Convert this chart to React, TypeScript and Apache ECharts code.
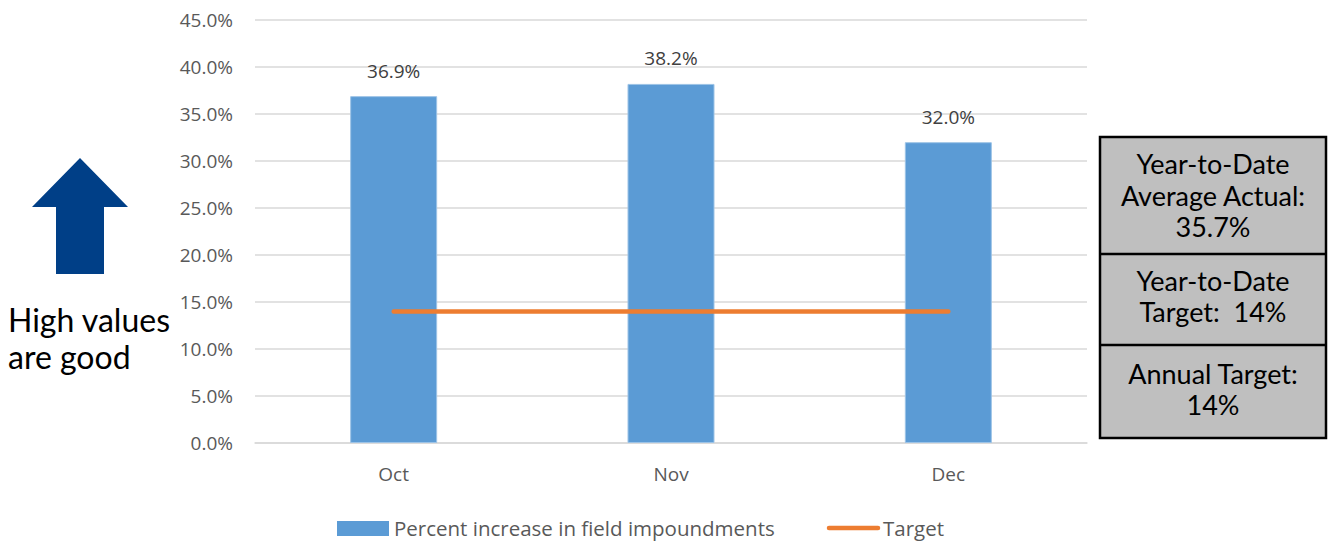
import React, { useEffect, useRef } from "react";
import * as echarts from "echarts";

const categories = ["Oct", "Nov", "Dec"];
const percentIncrease = [36.9, 38.2, 32.0];
const targetValues = [14, 14, 14];
const yTicks = { min: 0, max: 45, interval: 5 };
const seriesNames = ["Percent increase in field impoundments", "Target"];
const boxTexts = [
  "Year-to-Date\nAverage Actual:\n35.7%",
  "Year-to-Date\nTarget:  14%",
  "Annual Target:\n14%",
];
const sideNote = "High values\nare good";

export default function App() {
  const ref = useRef<HTMLDivElement>(null);
  useEffect(() => {
    document.body.style.margin = "0";
    const chart = echarts.init(ref.current!, null, { renderer: "svg" });
    const axisFont = "'Open Sans', 'Noto Sans', sans-serif";
    chart.setOption({
      animation: false,
      backgroundColor: "#ffffff",
      grid: { left: 255, right: 245, top: 20, bottom: 99, containLabel: false },
      xAxis: {
        type: "category",
        data: categories,
        axisLine: { show: true, lineStyle: { color: "#d9d9d9", width: 1.5 } },
        axisTick: { show: false },
        axisLabel: { color: "#595959", fontSize: 19, fontFamily: axisFont, margin: 21 },
      },
      yAxis: {
        type: "value",
        min: yTicks.min,
        max: yTicks.max,
        interval: yTicks.interval,
        axisLine: { show: false },
        axisTick: { show: false },
        splitLine: { lineStyle: { color: "#d9d9d9", width: 1.5 } },
        axisLabel: {
          color: "#595959",
          fontSize: 19,
          fontFamily: axisFont,
          margin: 22,
          formatter: (v: number) => v.toFixed(1) + "%",
        },
      },
      legend: { show: false },
      series: [
        {
          name: seriesNames[0],
          type: "bar",
          data: percentIncrease,
          barWidth: 87,
          itemStyle: { color: "#5b9bd5", borderColor: "#9dc3e6", borderWidth: 1 },
          label: {
            show: true,
            position: "top",
            distance: 16,
            color: "#404040",
            fontSize: 19,
            fontFamily: axisFont,
            formatter: (p: any) => p.value.toFixed(1) + "%",
          },
        },
        {
          name: seriesNames[1],
          type: "line",
          data: targetValues,
          symbol: "none",
          lineStyle: { color: "#ed7d31", width: 4.5, cap: "round" },
          itemStyle: { color: "#ed7d31" },
        },
      ],
      graphic: [
        // legend
        {
          type: "rect",
          shape: { x: 337, y: 521, width: 52, height: 15 },
          style: { fill: "#5b9bd5" },
        },
        {
          type: "text",
          x: 394,
          y: 528,
          style: {
            text: seriesNames[0],
            font: "20.5px 'Open Sans', sans-serif",
            fill: "#595959",
            verticalAlign: "middle",
          },
        },
        {
          type: "line",
          shape: { x1: 829, y1: 528, x2: 878, y2: 528 },
          style: { stroke: "#ed7d31", lineWidth: 4.5, lineCap: "round" },
        },
        {
          type: "text",
          x: 883,
          y: 528,
          style: {
            text: seriesNames[1],
            font: "20.5px 'Open Sans', sans-serif",
            fill: "#595959",
            verticalAlign: "middle",
          },
        },
        // arrow
        {
          type: "polygon",
          shape: {
            points: [
              [80, 158],
              [128, 207],
              [104, 207],
              [104, 274],
              [56, 274],
              [56, 207],
              [32, 207],
            ],
          },
          style: { fill: "#003f87" },
        },
        {
          type: "text",
          x: 8,
          y: 338,
          style: {
            text: sideNote,
            font: "32px Lato, sans-serif",
            fill: "#000000",
            verticalAlign: "middle",
            lineHeight: 37,
          },
        },
        // summary boxes
        {
          type: "rect",
          shape: { x: 1100, y: 137, width: 226, height: 301 },
          style: { fill: "#bfbfbf", stroke: "#000000", lineWidth: 2.5 },
        },
        {
          type: "line",
          shape: { x1: 1100, y1: 254, x2: 1326, y2: 254 },
          style: { stroke: "#000000", lineWidth: 2.5 },
        },
        {
          type: "line",
          shape: { x1: 1100, y1: 345, x2: 1326, y2: 345 },
          style: { stroke: "#000000", lineWidth: 2.5 },
        },
        ...boxTexts.map((t, i) => ({
          type: "text",
          x: 1213,
          y: [195, 296, 389][i],
          style: {
            text: t,
            font: "27px Lato, sans-serif",
            fill: "#000000",
            align: "center",
            verticalAlign: "middle",
            lineHeight: 31.5,
          },
        })),
      ],
    });
    return () => chart.dispose();
  }, []);
  return (
    <div
      ref={ref}
      style={{ position: "absolute", left: 0, top: 0, width: 1332, height: 542 }}
    />
  );
}
